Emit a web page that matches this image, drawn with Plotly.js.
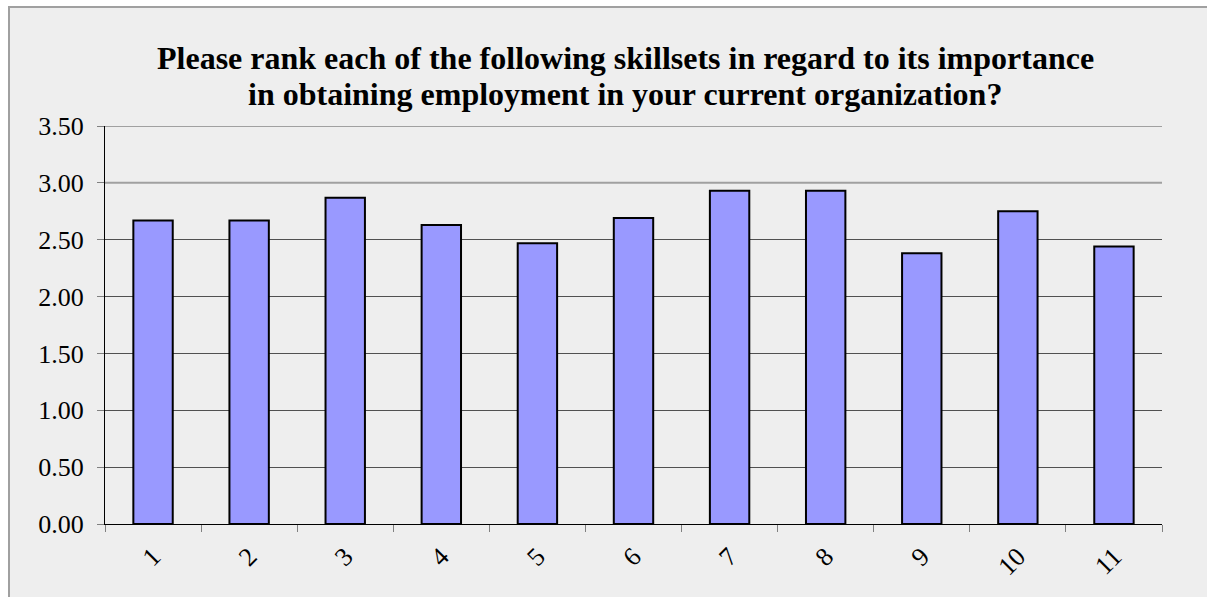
<!DOCTYPE html>
<html>
<head>
<meta charset="utf-8">
<script src="https://cdn.plot.ly/plotly-3.0.1.min.js"></script>
<style>
html,body{margin:0;padding:0;background:#ffffff;overflow:hidden;}
#frame{position:absolute;left:8px;top:6px;width:1300px;height:700px;border:2px solid #a0a0a0;background:#eeeeee;}
#chart{position:absolute;left:0;top:0;width:1207px;height:597px;}
</style>
</head>
<body>
<div id="frame"></div>
<div id="chart"></div>
<script>
const categories = ["1","2","3","4","5","6","7","8","9","10","11"];
const values = [2.67, 2.67, 2.87, 2.63, 2.47, 2.69, 2.93, 2.93, 2.38, 2.75, 2.44];
const yTicks = [0, 0.5, 1, 1.5, 2, 2.5, 3, 3.5];
const yTickLabels = ["0.00","0.50","1.00","1.50","2.00","2.50","3.00","3.50"];
const titleLines = [
  "Please rank each of the following skillsets in regard to its importance",
  "in obtaining employment in your current organization?"
];
const lightGridValues = [3, 3.5];

const serif = "Liberation Serif, Times New Roman, serif";

const trace = {
  type: "bar",
  x: categories,
  y: values,
  marker: {color: "#9999ff", line: {color: "#000000", width: 2}},
  hoverinfo: "x+y"
};

const titleTops = [38, 74];
const annotations = titleLines.map((t, i) => ({
  text: "<b>" + t + "</b>",
  xref: "paper", yref: "paper",
  x: (625 - 105) / 1057, xanchor: "center",
  y: (524 - titleTops[i]) / 398, yanchor: "top",
  showarrow: false,
  font: {family: serif, size: 32, color: "#000000"}
}));

const shapes = lightGridValues.map(v => ({
  type: "line", xref: "paper", yref: "y",
  x0: 0, x1: 1, y0: v, y1: v,
  line: {color: "#a0a0a0", width: 2}
}));

const layout = {
  width: 1207,
  height: 597,
  margin: {l: 105, r: 45, t: 126, b: 73},
  paper_bgcolor: "rgba(0,0,0,0)",
  plot_bgcolor: "rgba(0,0,0,0)",
  showlegend: false,
  bargap: 0.59,
  font: {family: serif, color: "#000000"},
  annotations: annotations,
  shapes: shapes,
  xaxis: {
    type: "category",
    tickson: "boundaries",
    ticks: "outside", ticklen: 7, tickcolor: "#808080", tickwidth: 1,
    tickangle: -45,
    tickfont: {size: 26},
    ticklabelstandoff: 6,
    showline: true, linecolor: "#000000", linewidth: 1,
    showgrid: false,
    fixedrange: true
  },
  yaxis: {
    range: [0, 3.5],
    tickvals: yTicks,
    ticktext: yTickLabels,
    ticks: "outside", ticklen: 7, tickcolor: "#808080", tickwidth: 1,
    tickfont: {size: 26},
    ticklabelstandoff: 8,
    showline: true, linecolor: "#000000", linewidth: 1,
    showgrid: true, gridcolor: "#505050", gridwidth: 1,
    zeroline: false,
    fixedrange: true
  }
};

Plotly.newPlot("chart", [trace], layout, {displayModeBar: false, staticPlot: true});
</script>
</body>
</html>
